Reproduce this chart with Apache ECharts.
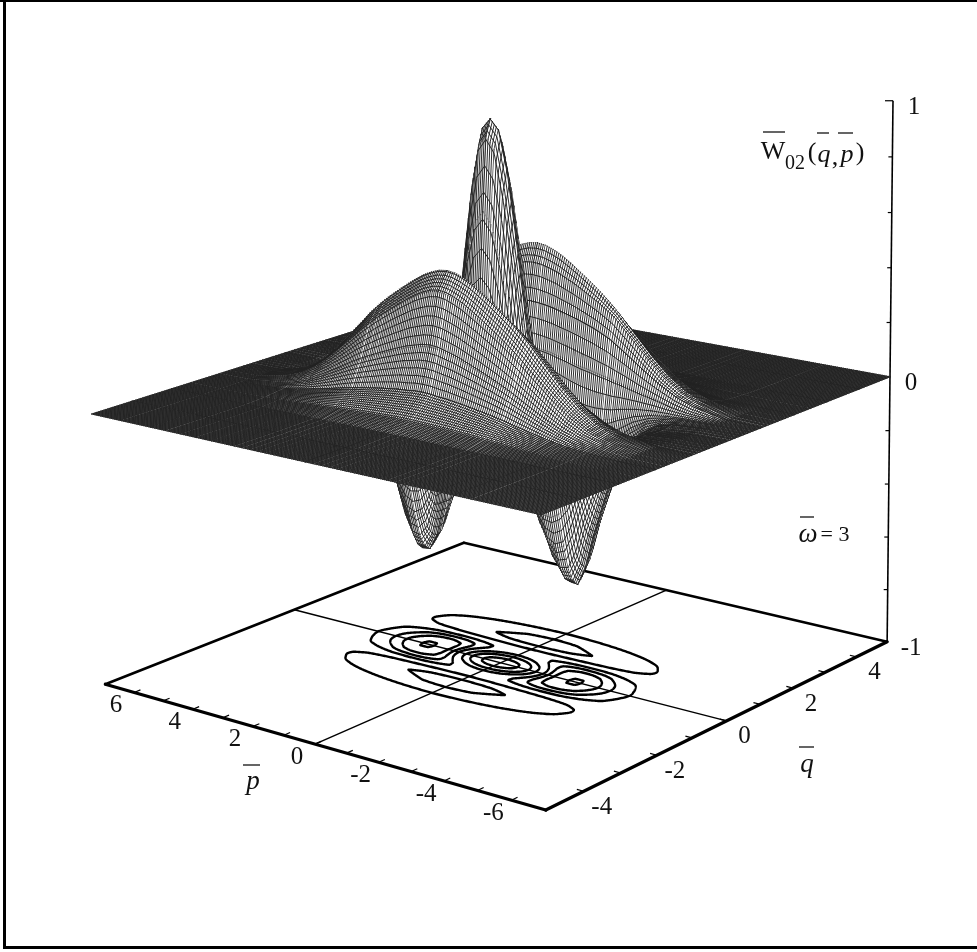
<!DOCTYPE html>
<html><head><meta charset="utf-8">
<style>html,body{margin:0;padding:0;background:#fff}#c{width:977px;height:952px}</style>
<script src="https://cdn.jsdelivr.net/npm/echarts@6/dist/echarts.min.js"></script>
</head><body><div id="c"></div>
<script>
// ---------- data ----------
const qNodes=[0,.125,.25,.375,.5,.625,.75,.875,1,1.125,1.25,1.5,1.75,2,2.5,3,4,5];
const pNodes=[0,.25,.5,.75,1,1.25,1.5,1.75,2,2.25,2.5,2.75,3,3.5,4,4.5,5,6,7];
// W(|q|,|p|): one row per q node, one column per p node; the surface is symmetric in q and p
const W0=[.99,.955,.81,.569,.299,.022,-.230,-.431,-.567,-.628,-.632,-.560,-.440,-.240,-.110,-.045,-.016,-.002,0];
const W1=[.935,.89,.73,.503,.250,-.011,-.246,-.433,-.558,-.612,-.612,-.540,-.425,-.230,-.105,-.043,-.015,-.002,0];
const W2=[.671,.629,.511,.335,.125,-.089,-.280,-.430,-.527,-.570,-.564,-.495,-.380,-.205,-.092,-.038,-.013,-.002,0];
const W3=[.378,.347,.262,.135,-.016,-.167,-.301,-.403,-.464,-.485,-.470,-.405,-.310,-.165,-.075,-.030,-.010,-.001,0];
const W4=[.132,.114,.061,-.017,-.108,-.199,-.277,-.333,-.363,-.366,-.347,-.311,-.244,-.134,-.063,-.027,-.010,-.001,0];
const W5=[.009,0,-.027,-.066,-.111,-.155,-.191,-.216,-.226,-.223,-.207,-.183,-.143,-.078,-.036,-.015,-.005,0,0];
const W6=[.025,.022,.011,-.004,-.022,-.040,-.055,-.066,-.072,-.072,-.068,-.061,-.048,-.026,-.013,-.005,-.002,0,0];
const W7=[.145,.143,.139,.134,.126,.119,.110,.102,.096,.088,.082,.074,.067,.050,.036,.020,.010,.001,0];
const W8=[.302,.300,.296,.290,.282,.274,.265,.254,.243,.229,.214,.193,.172,.127,.085,.051,.028,.003,0];
const W9=[.434,.431,.423,.413,.398,.384,.367,.349,.331,.310,.288,.256,.225,.160,.102,.060,.032,.004,0];
const W10=[.502,.498,.487,.472,.452,.430,.407,.383,.358,.330,.300,.265,.232,.165,.105,.062,.033,.004,0];
const W11=[.437,.432,.420,.405,.385,.365,.343,.321,.298,.273,.247,.218,.190,.135,.086,.050,.027,.003,0];
const W12=[.251,.248,.240,.232,.221,.209,.197,.184,.171,.157,.142,.125,.108,.076,.048,.028,.015,.002,0];
const W13=[.103,.102,.098,.096,.092,.088,.083,.078,.073,.067,.061,.054,.047,.034,.022,.013,.007,.001,0];
const W14=[.030,.030,.029,.028,.027,.026,.025,.023,.022,.020,.018,.016,.014,.010,.007,.004,.002,0,0];
const W15=[.004,.004,.004,.004,.004,.003,.003,.003,.003,.002,.002,.002,.002,.001,.001,0,0,0,0];
const W16=[0,0,0,0,0,0,0,0,0,0,0,0,0,0,0,0,0,0,0];
const W17=[0,0,0,0,0,0,0,0,0,0,0,0,0,0,0,0,0,0,0];
const surfaceRows=[W0,W1,W2,W3,W4,W5,W6,W7,W8,W9,W10,W11,W12,W13,W14,W15,W16,W17];
const contourLevels=[-.61,-.4,-.25,-.1,.15,.4,.75];
const pTicks=[-6,-5,-4,-3,-2,-1,0,1,2,3,4,5,6];
const qTicks=[-4,-3,-2,-1,0,1,2,3,4];
const zTicks=[-1,-.8,-.6,-.4,-.2,0,.2,.4,.6,.8,1];
const pLabels=[-6,-4,-2,0,2,4,6];
const qLabels=[-4,-2,0,2,4];
const zLabels=[-1,0,1];

// ---------- view: perspective camera fitted to the box corners ----------
const Q=5,P=7;
const anchors=[
 [-Q, P,-1,105,684],[-Q,-P,-1,545,810],[Q,-P,-1,888,641],[Q,P,-1,464,543],
 [-Q, P,0,92,414],[-Q,-P,0,542,515],[Q,-P,0,889,378],[Q,-P,1,893,100]];
function fitCamera(){
  const A=[],b=[];
  anchors.forEach(([q,p,z,x,y])=>{
    const u=q/Q,v=p/P,X=x/500,Y=y/500;
    A.push([u,v,z,1,0,0,0,0,-X*u,-X*v,-X*z]);b.push(X);
    A.push([0,0,0,0,u,v,z,1,-Y*u,-Y*v,-Y*z]);b.push(Y);
  });
  const n=11,M=[];
  for(let i=0;i<n;i++){M.push(new Array(n+1).fill(0));
    for(let j=0;j<n;j++)for(let k=0;k<A.length;k++)M[i][j]+=A[k][i]*A[k][j];
    for(let k=0;k<A.length;k++)M[i][n]+=A[k][i]*b[k];}
  for(let i=0;i<n;i++){let m=i;for(let r=i+1;r<n;r++)if(Math.abs(M[r][i])>Math.abs(M[m][i]))m=r;
    [M[i],M[m]]=[M[m],M[i]];
    for(let r=0;r<n;r++)if(r!==i){const f=M[r][i]/M[i][i];for(let c=i;c<=n;c++)M[r][c]-=f*M[i][c];}}
  return M.map((r,i)=>r[n]/r[i]);
}
const C=fitCamera();
function proj(q,p,z){
  const u=q/Q,v=p/P,w=C[8]*u+C[9]*v+C[10]*z+1;
  return [500*(C[0]*u+C[1]*v+C[2]*z+C[3])/w,500*(C[4]*u+C[5]*v+C[6]*z+C[7])/w];
}

// ---------- full grid from the quarter table ----------
const qs=[...qNodes.slice(1).reverse().map(v=>-v),...qNodes];
const ps=[...pNodes.slice(1).reverse().map(v=>-v),...pNodes];
const val=(i,j)=>surfaceRows[qNodes.indexOf(Math.abs(qs[i]))][pNodes.indexOf(Math.abs(ps[j]))];

// painter's order: from the far corner (q=+5,p=+7) to the near corner
const cells=[];
for(let i=qs.length-2;i>=0;i--)for(let j=ps.length-2;j>=0;j--)
  cells.push([qs[i],qs[i+1],ps[j],ps[j+1],val(i,j),val(i+1,j),val(i+1,j+1),val(i,j+1)]);

// contour lines on the floor: marching squares, chained, then rounded
function contourLoops(level){
  const segs=[];
  const key=(i,j,e)=>e===0?`h${i}_${j}`:e===1?`v${i+1}_${j}`:e===2?`h${i}_${j+1}`:`v${i}_${j}`;
  for(let i=0;i<qs.length-1;i++)for(let j=0;j<ps.length-1;j++){
    const c=[[qs[i],ps[j],val(i,j)],[qs[i+1],ps[j],val(i+1,j)],[qs[i+1],ps[j+1],val(i+1,j+1)],[qs[i],ps[j+1],val(i,j+1)]];
    const pts=[];
    for(let e=0;e<4;e++){const a=c[e],b=c[(e+1)%4];
      if((a[2]>level)!==(b[2]>level)){const t=(level-a[2])/(b[2]-a[2]);
        pts.push({k:key(i,j,e),q:a[0]+t*(b[0]-a[0]),p:a[1]+t*(b[1]-a[1])});}}
    if(pts.length===2)segs.push([pts[0],pts[1]]);
    if(pts.length===4){segs.push([pts[0],pts[1]]);segs.push([pts[2],pts[3]]);}
  }
  const at={};
  segs.forEach((s,n)=>{(at[s[0].k]=at[s[0].k]||[]).push(n);(at[s[1].k]=at[s[1].k]||[]).push(n);});
  const used=new Array(segs.length).fill(false),loops=[];
  segs.forEach((s,n)=>{
    if(used[n])return;used[n]=true;
    const chain=[s[0],s[1]];let cur=s[1];
    for(;;){const nx=(at[cur.k]||[]).find(m=>!used[m]);if(nx===undefined)break;
      used[nx]=true;const t=segs[nx];cur=t[0].k===cur.k?t[1]:t[0];chain.push(cur);}
    loops.push(chain);
  });
  return loops;
}
function rounded(pts){           // corner cutting of a closed chain, in screen space
  let r=pts.slice(0,-1);
  for(let it=0;it<3;it++){const o=[];
    r.forEach((a,i)=>{const b=r[(i+1)%r.length];
      o.push([.75*a[0]+.25*b[0],.75*a[1]+.25*b[1]]);o.push([.25*a[0]+.75*b[0],.25*a[1]+.75*b[1]]);});
    r=o;}
  r.push(r[0]);return r;
}

echarts.graphic.registerShape('segments',echarts.graphic.extendShape({
  shape:{segs:[]},
  buildPath(ctx,s){for(const g of s.segs){ctx.moveTo(g[0],g[1]);ctx.lineTo(g[2],g[3]);}}
}));
echarts.graphic.registerShape('chains',echarts.graphic.extendShape({
  shape:{chains:[]},
  buildPath(ctx,s){for(const c of s.chains){c.forEach((g,i)=>i?ctx.lineTo(g[0],g[1]):ctx.moveTo(g[0],g[1]));}}
}));

const MESH_Q=10/230,MESH_P=14/230;   // spacing of the mesh lines in data units
const OVER=.7;                       // mesh lines run this many pixels past a cell edge
function meshItem(params,api){
  const q0=api.value(0),q1=api.value(1),p0=api.value(2),p1=api.value(3);
  const z00=api.value(4),z10=api.value(5),z11=api.value(6),z01=api.value(7);
  const pt=(q,p,z)=>api.coord(proj(q,p,z));
  const poly=[pt(q0,p0,z00),pt(q1,p0,z10),pt(q1,p1,z11),pt(q0,p1,z01)];
  const segs=[];
  const add=(a,b)=>{const dx=b[0]-a[0],dy=b[1]-a[1],L=Math.hypot(dx,dy)||1,ex=dx/L*OVER,ey=dy/L*OVER;
    segs.push([a[0]-ex,a[1]-ey,b[0]+ex,b[1]+ey]);};
  const qk0=Math.ceil((q0+Q)/MESH_Q-1e-6),qk1=Math.floor((q1+Q)/MESH_Q+1e-6);
  for(let k=qk0;k<=qk1;k++){const q=-Q+k*MESH_Q,t=(q-q0)/(q1-q0);
    add(pt(q,p0,z00+t*(z10-z00)),pt(q,p1,z01+t*(z11-z01)));}
  const pk0=Math.ceil((p0+P)/MESH_P-1e-6),pk1=Math.floor((p1+P)/MESH_P+1e-6);
  for(let k=pk0;k<=pk1;k++){const p=-P+k*MESH_P,t=(p-p0)/(p1-p0);
    add(pt(q0,p,z00+t*(z01-z00)),pt(q1,p,z10+t*(z11-z10)));}
  return {type:'group',children:[
    {type:'polygon',shape:{points:poly},style:{fill:'#fff'},silent:true},
    {type:'segments',shape:{segs},style:{fill:null,stroke:'#222',lineWidth:.95},silent:true}
  ]};
}

const serif='"Liberation Serif","DejaVu Serif",serif';
function labelItem(t,x,y,size,italic){
  return {type:'text',x,y,style:{text:t,font:(italic?'italic ':'')+size+'px '+serif,fill:'#111',align:'center',verticalAlign:'middle'},silent:true};
}
function frameItem(params,api){
  const line=(a,b,w,col)=>{const A=api.coord(a),B=api.coord(b);
    return {type:'line',shape:{x1:A[0],y1:A[1],x2:B[0],y2:B[1]},style:{stroke:col||'#000',lineWidth:w,lineCap:'round'},silent:true};};
  const f=(q,p,z)=>proj(q,p,z);
  const ch=[];
  ch.push(line(f(-Q,P,-1),f(-Q,-P,-1),3.2));
  ch.push(line(f(-Q,-P,-1),f(Q,-P,-1),3.2));
  ch.push(line(f(-Q,P,-1),f(Q,P,-1),2.6));
  ch.push(line(f(Q,P,-1),f(Q,-P,-1),2.6));
  ch.push(line(f(0,-P,-1),f(0,P,-1),1.5));
  ch.push(line(f(-Q,0,-1),f(Q,0,-1),1.5));
  return {type:'group',children:ch};
}
function axisItem(params,api){
  const line=(a,b,w)=>{const A=api.coord(a),B=api.coord(b);
    return {type:'line',shape:{x1:A[0],y1:A[1],x2:B[0],y2:B[1]},style:{stroke:'#000',lineWidth:w},silent:true};};
  const ch=[line(proj(Q,-P,-1),proj(Q,-P,1),1.6)];
  pTicks.forEach(p=>ch.push(line(proj(-Q,p,-1),proj(-Q+.16,p,-1),1.2)));
  qTicks.forEach(q=>ch.push(line(proj(q,-P,-1),proj(q,-P+.2,-1),1.2)));
  zTicks.forEach(z=>{const a=proj(Q,-P,z),len=z===1?8:4;
    if(z!==-1&&z!==0)ch.push(line(a,[a[0]-len,a[1]],1.2));});
  pLabels.forEach(p=>{const a=api.coord(proj(-Q,p,-1));ch.push(labelItem(String(p),a[0]-18,a[1]+13,25));});
  qLabels.forEach(q=>{const a=api.coord(proj(q,-P,-1));ch.push(labelItem(String(q),a[0]+18,a[1]+16,25));});
  zLabels.forEach(z=>{const a=api.coord(proj(Q,-P,z));ch.push(labelItem(String(z),a[0]+(z<0?24:21),a[1]+7,25));});
  return {type:'group',children:ch};
}
function contourItem(params,api){
  const chains=contourLoops(api.value(0)).map(c=>rounded(c.map(s=>api.coord(proj(s.q,s.p,-1)))));
  return {type:'chains',shape:{chains},style:{fill:null,stroke:'#000',lineWidth:2.4,lineJoin:'round'},silent:true};
}

const overline=(x1,x2,y)=>({type:'line',shape:{x1,y1:y,x2,y2:y},style:{stroke:'#111',lineWidth:1.3},silent:true});
const txt=(t,x,y,size,italic,align)=>({type:'text',x,y,style:{text:t,font:(italic?'italic ':'')+size+'px '+serif,fill:'#111',align:align||'center',verticalAlign:'middle'},silent:true});
const bar=(x,y,width,height)=>({type:'rect',shape:{x,y,width,height},style:{fill:'#000'},silent:true});

const chart=echarts.init(document.getElementById('c'),null,{renderer:'canvas',width:977,height:952});
chart.setOption({
  animation:false,backgroundColor:'#fff',
  grid:{left:0,right:0,top:0,bottom:0,show:false},
  xAxis:{type:'value',min:0,max:977,show:false},
  yAxis:{type:'value',min:0,max:952,inverse:true,show:false},
  tooltip:{show:false},
  series:[
    {type:'custom',coordinateSystem:'cartesian2d',renderItem:frameItem,data:[[0]],z:1,silent:true,clip:false,encode:{x:0,y:0}},
    {type:'custom',coordinateSystem:'cartesian2d',renderItem:contourItem,data:contourLevels.map(v=>[v]),z:2,silent:true,clip:false,encode:{x:0,y:0}},
    {type:'custom',coordinateSystem:'cartesian2d',renderItem:axisItem,data:[[0]],z:3,silent:true,clip:false,encode:{x:0,y:0}},
    {type:'custom',coordinateSystem:'cartesian2d',renderItem:meshItem,data:cells,z:4,silent:true,clip:false,progressive:0,encode:{x:0,y:1}}
  ],
  graphic:{elements:[
    bar(0,0,977,2),bar(3,0,3,949),bar(3,946,974,3),
    txt('W',773,152,26,false),overline(763,785,132),txt('02',795,164,20,false),
    txt('(',812,153,26,false),txt('q',824,155,26,true),txt(',',835,158,26,false),txt('p',847,155,26,true),txt(')',860,153,26,false),
    overline(817,829,133),overline(838,853,133),
    txt('ω',808,535,27,true),overline(800,814,517),txt('= 3',835,535,22,false),
    txt('p',253,782,27,true),overline(243,260,765),
    txt('q',807,765,27,true),overline(799,814,747)
  ]}
});
</script></body></html>
